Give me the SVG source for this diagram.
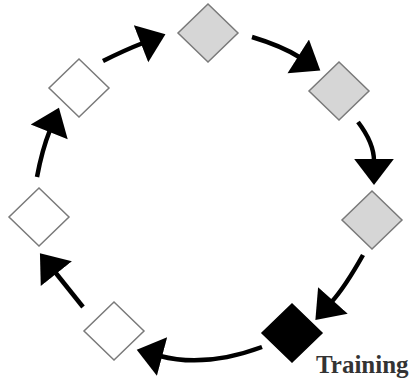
<svg xmlns="http://www.w3.org/2000/svg" width="412" height="380" viewBox="0 0 412 380">
  <defs>
    <style>
      .d { stroke: #7a7a7a; stroke-width: 1.5; }
      .white { fill: #ffffff; }
      .gray { fill: #d6d6d6; }
      .black { fill: #000000; stroke: #000000; }
      .arrow { fill: none; stroke: #000000; stroke-width: 4.5; marker-end: url(#head); }
      .label { font-family: "Liberation Serif", "Times New Roman", serif; font-size: 25px; font-weight: bold; fill: #333333; }
    </style>
    <marker id="head" markerUnits="userSpaceOnUse" markerWidth="30" markerHeight="44" viewBox="-2 -21 28 42" refX="0" refY="0" orient="auto">
      <path d="M-2,-19 L23,0 L-2,19 Z" fill="#000000"/>
    </marker>
    <polygon id="dia" points="0,-29 30,0 0,29 -30,0"/>
  </defs>

  <g id="connectors">
    <path class="arrow" d="M103,61 Q125,50 143,43"/>
    <path class="arrow" d="M252,37 Q282,46 300,57.5"/>
    <path class="arrow" d="M358,122 Q374,143 374,161"/>
    <path class="arrow" d="M363,255 Q345,287 331.5,302"/>
    <path class="arrow" d="M262,347 Q205,368 160,356"/>
    <path class="arrow" d="M83,307 Q67,287 55,272"/>
    <path class="arrow" d="M37,177 Q42,150 50,130"/>
  </g>

  <g id="node-top"><use href="#dia" class="d gray" x="208" y="33"/></g>
  <g id="node-right1"><use href="#dia" class="d gray" x="339" y="91"/></g>
  <g id="node-right2"><use href="#dia" class="d gray" x="372" y="220"/></g>
  <g id="node-training">
    <use href="#dia" class="d black" x="292" y="333"/>
    <text class="label" x="316" y="373">Training</text>
  </g>
  <g id="node-bottom"><use href="#dia" class="d white" x="114" y="331"/></g>
  <g id="node-left"><use href="#dia" class="d white" x="39" y="217"/></g>
  <g id="node-upperleft"><use href="#dia" class="d white" x="79" y="88"/></g>
</svg>
